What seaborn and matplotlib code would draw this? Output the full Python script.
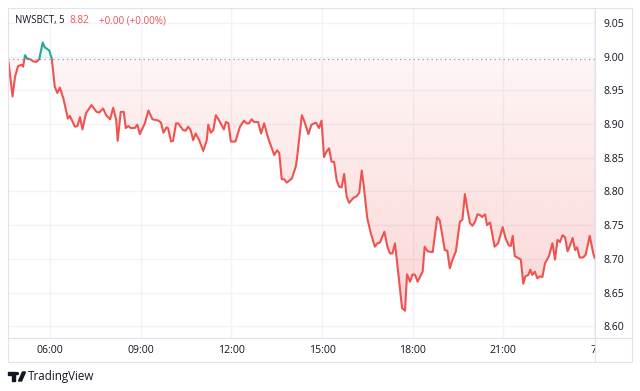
import numpy as np
import pandas as pd
import matplotlib
matplotlib.use("Agg")
import matplotlib.pyplot as plt
import seaborn as sns
from matplotlib.lines import Line2D
from matplotlib.patches import Rectangle, Polygon, Circle
from matplotlib.transforms import Bbox, TransformedBbox

# ---------------- data (minutes since midnight, price) ----------------
minutes = [277, 285, 290, 296, 303, 306, 310, 314, 320, 326, 332, 338, 345, 349, 358, 363,
           369, 374, 379, 386, 395, 399, 409, 414, 419, 424, 431, 442, 452, 457, 465, 471,
           479, 485, 491, 494, 500, 506, 510, 515, 520, 528, 533, 538, 548, 555,
           563, 575, 580, 585, 591, 594, 600, 604, 610, 614, 624, 629, 634, 639, 644, 649,
           656, 664, 671, 674, 679, 684, 689, 695, 705, 709, 714, 719, 728, 737, 745, 750,
           755, 760, 765, 773, 779, 785, 793, 805, 811, 815, 820, 825, 830, 840, 848,
           850, 860, 864, 873, 879, 888, 894, 899, 904, 909, 914, 919, 924, 929, 934, 939,
           944, 949, 954, 962, 969, 974, 979, 983, 990, 997, 1005, 1010, 1015, 1024, 1030,
           1035, 1040, 1045, 1051, 1059, 1065, 1069, 1075, 1080, 1085, 1090, 1100, 1104,
           1110, 1120, 1129, 1134, 1144, 1149, 1154, 1159, 1166, 1174, 1179, 1184, 1189,
           1194, 1199, 1204, 1209, 1214, 1218, 1224, 1228, 1234, 1243, 1250, 1259, 1265,
           1271, 1275, 1279, 1283, 1290, 1295, 1300, 1304, 1310, 1314, 1318, 1323, 1328,
           1333, 1338, 1343, 1351, 1358, 1363, 1368, 1373, 1378, 1383, 1388, 1393, 1398,
           1403, 1407, 1412, 1419, 1424, 1432, 1439, 1442]
prices = [8.992, 8.941, 8.970, 8.986, 8.988, 8.985, 9.002, 8.997, 8.996, 8.993, 8.992, 8.996,
          9.021, 9.014, 9.009, 8.997, 8.955, 8.946, 8.954, 8.938, 8.908, 8.912, 8.896, 8.897,
          8.910, 8.892, 8.916, 8.928, 8.918, 8.917, 8.923, 8.913, 8.907, 8.924, 8.906, 8.875,
          8.918, 8.918, 8.894, 8.897, 8.894, 8.894, 8.899, 8.885, 8.901, 8.920,
          8.907, 8.905, 8.902, 8.887, 8.895, 8.894, 8.874, 8.875, 8.901, 8.901, 8.891, 8.890,
          8.896, 8.891, 8.876, 8.886, 8.876, 8.860, 8.876, 8.899, 8.887, 8.891, 8.913, 8.906,
          8.892, 8.903, 8.901, 8.874, 8.874, 8.896, 8.905, 8.901, 8.901, 8.907, 8.903, 8.903,
          8.886, 8.901, 8.879, 8.854, 8.861, 8.857, 8.818, 8.818, 8.813, 8.819, 8.837,
          8.847, 8.913, 8.906, 8.885, 8.899, 8.902, 8.894, 8.905, 8.851, 8.859, 8.864, 8.844,
          8.844, 8.817, 8.807, 8.806, 8.826, 8.792, 8.783, 8.790, 8.793, 8.798, 8.831, 8.808,
          8.760, 8.738, 8.718, 8.723, 8.724, 8.740, 8.718, 8.708, 8.708, 8.723, 8.683, 8.627,
          8.623, 8.677, 8.666, 8.677, 8.676, 8.666, 8.681, 8.718, 8.711, 8.710, 8.762, 8.757,
          8.713, 8.712, 8.686, 8.698, 8.711, 8.755, 8.758, 8.796, 8.773, 8.753, 8.749, 8.755,
          8.766, 8.765, 8.762, 8.766, 8.750, 8.754, 8.718, 8.723, 8.747, 8.730, 8.720, 8.719,
          8.734, 8.704, 8.701, 8.699, 8.663, 8.674, 8.676, 8.684, 8.676, 8.681, 8.671, 8.674,
          8.673, 8.693, 8.704, 8.723, 8.699, 8.728, 8.725, 8.735, 8.732, 8.711, 8.720, 8.731,
          8.713, 8.717, 8.702, 8.702, 8.706, 8.734, 8.708, 8.701]
base_price = 8.996
x_ticks = [360, 540, 720, 900, 1080, 1260, 1440]
x_tick_labels = ["06:00", "09:00", "12:00", "15:00", "18:00", "21:00", "7"]
y_ticks = [8.60, 8.65, 8.70, 8.75, 8.80, 8.85, 8.90, 8.95, 9.00, 9.05]
title_symbol = "NWSBCT, 5"
title_last = "8.82"
title_change = "+0.00 (+0.00%)"
brand = "TradingView"

# ---------------- style ----------------
RED = "#ef5350"
TEAL = "#22ab94"
TXT = "#131722"
GRID = "#f0f3fa"
FRAME = "#e0e3eb"

sns.set_theme(style="white")
plt.rcParams["font.family"] = ["Open Sans", "DejaVu Sans"]

W, H = 640, 391
fig = plt.figure(figsize=(6.4, 3.91), dpi=100)
fig.patch.set_facecolor("white")


def fx(px):
    return px / W


def fy(py):
    return 1 - py / H


ax = fig.add_axes([fx(8), fy(338), fx(595) - fx(8), fy(8) - fy(338)])
ax.set_facecolor("white")
XMIN, XMAX = 276, 1442.5
YMIN, YMAX = 8.5825, 9.0721
ax.set_xlim(XMIN, XMAX)
ax.set_ylim(YMIN, YMAX)
for s in ax.spines.values():
    s.set_visible(False)

ax.set_xticks(x_ticks)
ax.set_xticklabels(x_tick_labels)
ax.set_yticks(y_ticks)
ax.set_yticklabels([f"{v:.2f}" for v in y_ticks])
ax.yaxis.tick_right()
ax.grid(True, color=GRID, lw=1.0, zorder=0)
ax.set_axisbelow(True)
ax.tick_params(axis="y", length=0, pad=5.8, labelsize=7.6, labelcolor=TXT)
ax.tick_params(axis="x", length=0, pad=5.0, labelsize=7.6, labelcolor=TXT)

df = pd.DataFrame({"t": minutes, "p": prices})

# gradient fills clipped to area between line and baseline
coll = ax.fill_between(df["t"], df["p"], base_price, facecolor="none", edgecolor="none")
clip_path = coll.get_paths()[0]

n = 256
red_rgba = np.zeros((n, 1, 4))
red_rgba[..., :3] = matplotlib.colors.to_rgb(RED)
red_rgba[:, 0, 3] = np.linspace(0.06, 0.25, n)
im_r = ax.imshow(red_rgba, extent=[XMIN, XMAX, YMIN, base_price], origin="upper",
                 aspect="auto", interpolation="bilinear", zorder=1)
im_r.set_clip_path(clip_path, ax.transData)

teal_rgba = np.zeros((n, 1, 4))
teal_rgba[..., :3] = matplotlib.colors.to_rgb(TEAL)
teal_rgba[:, 0, 3] = np.linspace(0.06, 0.25, n)
im_t = ax.imshow(teal_rgba, extent=[XMIN, XMAX, base_price, YMAX], origin="lower",
                 aspect="auto", interpolation="bilinear", zorder=1)
im_t.set_clip_path(clip_path, ax.transData)
ax.set_xlim(XMIN, XMAX)
ax.set_ylim(YMIN, YMAX)

# baseline (dotted)
ax.axhline(base_price, color="#9598a1", lw=0.9, ls=(0, (1, 2.6)), zorder=2)

# price line, red below baseline, teal above
sns.lineplot(data=df, x="t", y="p", ax=ax, color=RED, lw=1.5, sort=False,
             estimator=None, zorder=3)
ln_r = ax.lines[-1]
ln_r.set_clip_path(Rectangle((XMIN, YMIN - 1), XMAX - XMIN, base_price - YMIN + 1,
                             transform=ax.transData))
sns.lineplot(data=df, x="t", y="p", ax=ax, color=TEAL, lw=1.5, sort=False,
             estimator=None, zorder=3)
ln_t = ax.lines[-1]
ln_t.set_clip_path(Rectangle((XMIN, base_price), XMAX - XMIN, 1,
                             transform=ax.transData))
ax.set_xlabel("")
ax.set_ylabel("")

# clip the "7" label at the price-axis separator
clipbox = TransformedBbox(Bbox([[0, 0], [fx(595), 1]]), fig.transFigure)
for lbl in ax.get_xticklabels():
    lbl.set_clip_on(True)
    lbl.set_clip_box(clipbox)


# frame lines
def hline(y, x0, x1):
    fig.add_artist(Line2D([fx(x0), fx(x1)], [fy(y), fy(y)], color=FRAME, lw=0.8))


def vline(x, y0, y1):
    fig.add_artist(Line2D([fx(x), fx(x)], [fy(y0), fy(y1)], color=FRAME, lw=0.8))


hline(8, 8, 632)
hline(362, 8, 632)
hline(338, 8, 632)
vline(8, 8, 362)
vline(632, 8, 362)
vline(595, 8, 362)

# header
fig.text(fx(15), fy(20.7), title_symbol, fontsize=6.9, color=TXT, va="center", ha="left")
fig.text(fx(69), fy(20.7), title_last, fontsize=7.3, color=RED, va="center", ha="left")
fig.text(fx(99), fy(20.7), title_change, fontsize=7.1, color=RED, va="center", ha="left")

# brand logo + text
logo_col = TXT
fig.add_artist(Polygon([[fx(8), fy(372)], [fx(14.5), fy(372)], [fx(14.5), fy(381)],
                        [fx(11.5), fy(381)], [fx(11.5), fy(375)], [fx(8), fy(375)]],
                       closed=True, color=logo_col, transform=fig.transFigure))
fig.add_artist(Circle((fx(16.8), fy(373.6)), 1.6 / W, color=logo_col,
                      transform=fig.transFigure))
fig.add_artist(Polygon([[fx(18.5), fy(381)], [fx(22.5), fy(372)], [fx(25.5), fy(372)],
                        [fx(21.5), fy(381)]],
                       closed=True, color=logo_col, transform=fig.transFigure))
fig.text(fx(28), fy(376.5), brand, fontsize=8.4, color=TXT, va="center", ha="left")

fig.savefig("out.png", dpi=100, facecolor="white")
